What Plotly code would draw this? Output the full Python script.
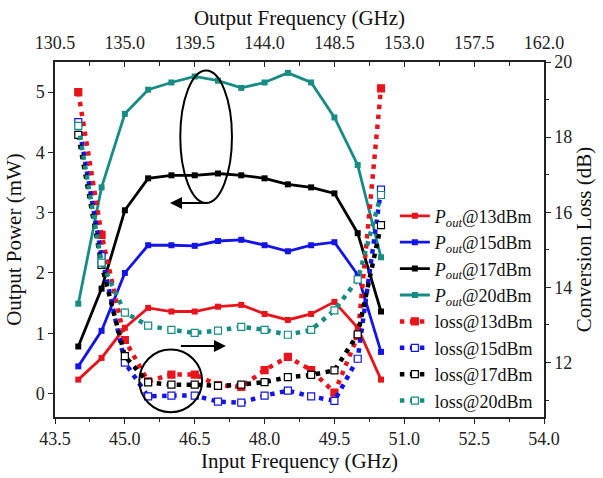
import plotly.graph_objects as go

# ---------------- data ----------------
freq_in = [44.0, 44.5, 45.0, 45.5, 46.0, 46.5, 47.0, 47.5, 48.0, 48.5, 49.0, 49.5, 50.0, 50.5]

pout_13 = [0.23, 0.59, 1.09, 1.42, 1.36, 1.36, 1.44, 1.47, 1.32, 1.22, 1.32, 1.52, 1.09, 0.23]
pout_15 = [0.45, 1.04, 2.00, 2.46, 2.46, 2.45, 2.53, 2.55, 2.46, 2.36, 2.46, 2.51, 1.97, 0.69]
pout_17 = [0.78, 1.74, 3.04, 3.57, 3.62, 3.62, 3.65, 3.62, 3.57, 3.47, 3.42, 3.32, 2.66, 1.36]
pout_20 = [1.49, 3.42, 4.64, 5.04, 5.16, 5.26, 5.19, 5.07, 5.16, 5.32, 5.16, 4.58, 3.79, 2.26]

loss_13 = [19.2, 15.4, 12.6, 11.5, 11.68, 11.68, 11.4, 11.35, 11.8, 12.15, 11.8, 11.2, 12.7, 19.3]
loss_15 = [18.4, 14.83, 12.0, 11.1, 11.12, 11.12, 10.96, 10.93, 11.12, 11.25, 11.1, 10.98, 12.1, 16.6]
loss_17 = [18.06, 14.6, 12.17, 11.47, 11.41, 11.41, 11.38, 11.41, 11.48, 11.61, 11.67, 11.79, 12.75, 15.66]
loss_20 = [18.3, 14.66, 13.33, 12.98, 12.87, 12.79, 12.85, 12.95, 12.87, 12.74, 12.87, 13.39, 14.21, 16.46]

top_ticks = [130.5, 135.0, 139.5, 144.0, 148.5, 153.0, 157.5, 162.0]
bottom_ticks = [43.5, 45.0, 46.5, 48.0, 49.5, 51.0, 52.5, 54.0]

labels_pout = ["13", "15", "17", "20"]
colors = ["#e8141c", "#1414e6", "#000000", "#168c84"]

FONT = "Liberation Serif"

fig = go.Figure()

pouts = [pout_13, pout_15, pout_17, pout_20]
losses = [loss_13, loss_15, loss_17, loss_20]

for i, (p, c, lab) in enumerate(zip(pouts, colors, labels_pout)):
    fig.add_trace(go.Scatter(
        x=freq_in, y=p, mode="lines+markers",
        name=f"<i>P<sub>out</sub></i>@{lab}dBm",
        line=dict(color=c, width=2.8),
        marker=dict(symbol="square", size=6, color=c),
        legendgroup=f"g{i}", xaxis="x", yaxis="y",
    ))

for i, (l, c, lab) in enumerate(zip(losses, colors, labels_pout)):
    filled = (i == 0)
    fig.add_trace(go.Scatter(
        x=freq_in, y=l, mode="lines+markers",
        name=f"loss@{lab}dBm",
        line=dict(color=c, width=4.5, dash="4.5px,5.5px"),
        marker=dict(symbol="square", size=7,
                    color=c if filled else "white",
                    line=dict(color=c, width=1.2)),
        legendgroup=f"h{i}", xaxis="x", yaxis="y2",
    ))

# invisible trace to activate the top axis
fig.add_trace(go.Scatter(x=top_ticks, y=[None] * len(top_ticks), xaxis="x2", yaxis="y",
                         showlegend=False, hoverinfo="skip", mode="markers"))

# annotation shapes
fig.add_shape(type="circle", xref="x", yref="y", x0=46.19, x1=47.30, y0=3.16, y1=5.36,
              line=dict(color="black", width=2))
fig.add_shape(type="circle", xref="x", yref="y", x0=45.31, x1=46.66, y0=-0.31, y1=0.73,
              line=dict(color="black", width=2))
fig.add_annotation(x=45.97, y=3.16, ax=46.76, ay=3.16, xref="x", yref="y", axref="x", ayref="y",
                   showarrow=True, arrowhead=2, arrowsize=1.2, arrowwidth=2, arrowcolor="black", text="")
fig.add_annotation(x=47.17, y=0.79, ax=46.17, ay=0.79, xref="x", yref="y", axref="x", ayref="y",
                   showarrow=True, arrowhead=2, arrowsize=1.2, arrowwidth=2, arrowcolor="black", text="")

tickfont = dict(family=FONT, size=18, color="#222")
titlefont = dict(family=FONT, size=21, color="#111")

fig.update_layout(
    width=603, height=478,
    margin=dict(l=55, r=56, t=62, b=61),
    paper_bgcolor="white", plot_bgcolor="white",
    showlegend=True,
    legend=dict(x=0.695, y=0.618, xanchor="left", yanchor="top",
                bgcolor="rgba(0,0,0,0)", borderwidth=0,
                font=dict(family=FONT, size=18, color="#111"),
                tracegroupgap=0, itemwidth=30),
    xaxis=dict(range=[43.5, 54.0], tickmode="array", tickvals=bottom_ticks,
               ticktext=[f"{v:.1f}" for v in bottom_ticks],
               ticks="outside", ticklen=5, tickwidth=1.3, tickcolor="#222",
               minor=dict(ticks="outside", dtick=0.75, tick0=43.5, ticklen=3, tickcolor="#222"),
               showline=True, linecolor="#222", linewidth=1.5, mirror=False,
               showgrid=False, zeroline=False, tickfont=tickfont,
               title=dict(text="Input Frequency (GHz)", font=titlefont, standoff=2)),
    xaxis2=dict(range=[130.5, 162.0], overlaying="x", side="top", anchor="y",
                tickmode="array", tickvals=top_ticks,
                ticktext=[f"{v:.1f}" for v in top_ticks],
                ticks="inside", ticklen=5, tickwidth=1.3, tickcolor="#222",
                ticklabelstandoff=4,
                minor=dict(ticks="inside", dtick=2.25, tick0=130.5, ticklen=4, tickcolor="#222"),
                showline=True, linecolor="#222", linewidth=1.5,
                showgrid=False, zeroline=False, tickfont=tickfont,
                title=dict(text="Output Frequency (GHz)", font=titlefont, standoff=2)),
    yaxis=dict(range=[-0.39, 5.5], dtick=1, tick0=0,
               ticks="outside", ticklen=5, tickwidth=1.3, tickcolor="#222",
               showline=True, linecolor="#222", linewidth=1.5,
               showgrid=False, zeroline=False, tickfont=tickfont,
               title=dict(text="Output Power (mW)", font=titlefont, standoff=8)),
    yaxis2=dict(range=[10.55, 20.0], dtick=2, tick0=0, overlaying="y", side="right", anchor="x",
                ticks="outside", ticklen=5, tickwidth=1.3, tickcolor="#222",
                minor=dict(ticks="outside", dtick=1, tick0=0, ticklen=3, tickcolor="#222"),
                showline=True, linecolor="#222", linewidth=1.5,
                showgrid=False, zeroline=False, tickfont=tickfont,
                title=dict(text="Conversion Loss (dB)", font=titlefont, standoff=4)),
)

fig.write_html("out.html")
